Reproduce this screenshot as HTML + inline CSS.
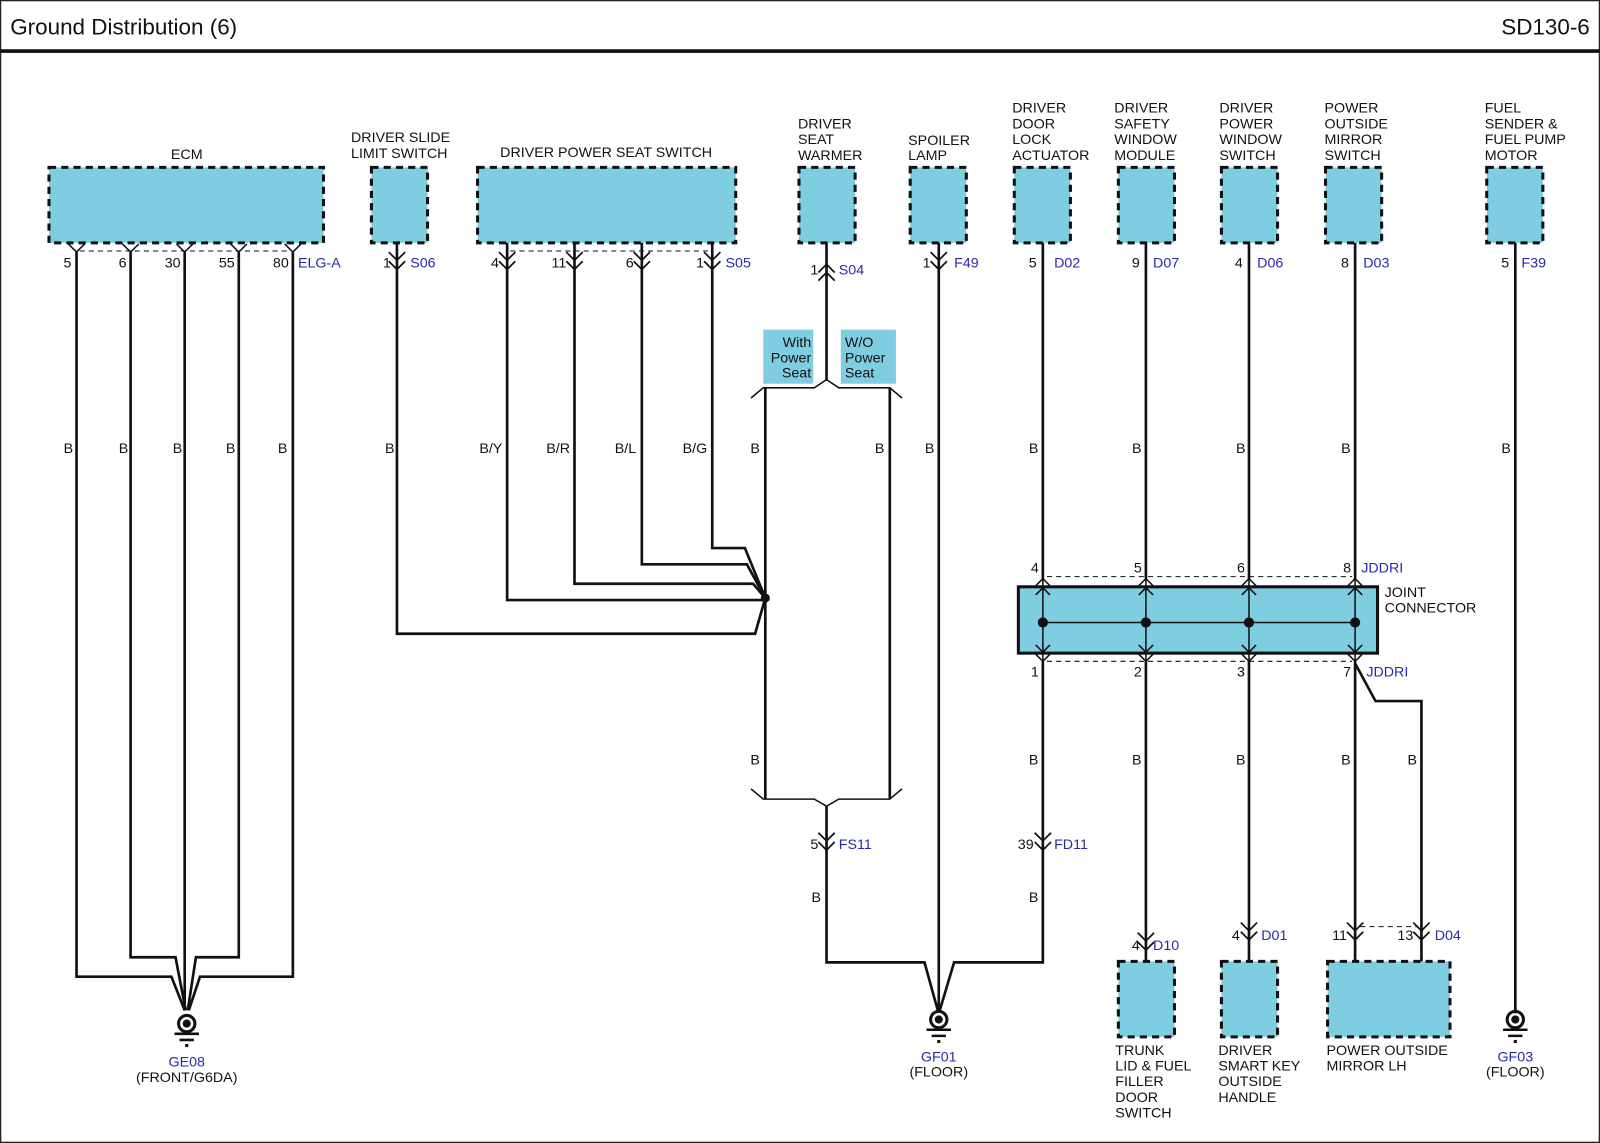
<!DOCTYPE html>
<html><head><meta charset="utf-8"><style>
html,body{margin:0;padding:0;background:#fff}
svg{display:block}
text{font-family:"Liberation Sans",Arial,sans-serif;font-size:14px;fill:#111}
.b{fill:#2a2aa8}
</style></head><body>
<svg width="1600" height="1143" viewBox="0 0 1568 1120" preserveAspectRatio="none" xmlns="http://www.w3.org/2000/svg">
<defs>
<g id="dn"><path d="M-8,-5 L0,3 L8,-5 M-8,4 L0,12 L8,4" fill="none" stroke="#111" stroke-width="1.7"/></g>
<g id="up"><path d="M-8,5 L0,-3 L8,5 M-8,13 L0,5 L8,13" fill="none" stroke="#111" stroke-width="1.7"/></g>
<g id="gnd"><circle cx="0" cy="0" r="8" fill="none" stroke="#111" stroke-width="3"/><circle cx="0" cy="0" r="4" fill="#111"/><path d="M-12,10 H12 M-7,16 H7" stroke="#111" stroke-width="2.5"/><rect x="-1.5" y="20" width="3" height="3" fill="#111"/></g>
</defs>
<rect x="0.5" y="0.5" width="1567" height="1119" fill="none" stroke="#222" stroke-width="1.5"/>
<text x="10" y="34" style="font-size:22px">Ground Distribution (6)</text>
<text x="1558" y="34" text-anchor="end" style="font-size:22px">SD130-6</text>
<line x1="0" y1="50" x2="1568" y2="50" stroke="#111" stroke-width="3.5"/>

<g fill="#7fcde0" stroke="#111" stroke-width="3" stroke-dasharray="7,5">
<rect x="48" y="164" width="269" height="74"/>
<rect x="364" y="164" width="55" height="74"/>
<rect x="468" y="164" width="253" height="74"/>
<rect x="783" y="164" width="55" height="74"/>
<rect x="892" y="164" width="55" height="74"/>
<rect x="994" y="164" width="55" height="74"/>
<rect x="1096" y="164" width="55" height="74"/>
<rect x="1197" y="164" width="55" height="74"/>
<rect x="1299" y="164" width="55" height="74"/>
<rect x="1457" y="164" width="55" height="74"/>
<rect x="1096" y="942" width="55" height="74"/>
<rect x="1197" y="942" width="55" height="74"/>
<rect x="1301" y="942" width="120" height="74"/>
</g>
<rect x="748" y="323" width="49" height="53" fill="#7fcde0"/>
<rect x="824" y="323" width="54" height="53" fill="#7fcde0"/>
<text x="795" y="340" text-anchor="end">With</text><text x="795" y="355" text-anchor="end">Power</text><text x="795" y="370" text-anchor="end">Seat</text>
<text x="828" y="340">W/O</text><text x="828" y="355">Power</text><text x="828" y="370">Seat</text>

<text x="183" y="156" text-anchor="middle">ECM</text>
<text x="344" y="139">DRIVER SLIDE</text><text x="344" y="155">LIMIT SWITCH</text>
<text x="594" y="154" text-anchor="middle">DRIVER POWER SEAT SWITCH</text>
<text x="782" y="126">DRIVER</text><text x="782" y="141">SEAT</text><text x="782" y="157">WARMER</text>
<text x="890" y="142">SPOILER</text><text x="890" y="157">LAMP</text>
<g>
<text x="992" y="110">DRIVER</text><text x="992" y="126">DOOR</text><text x="992" y="141">LOCK</text><text x="992" y="157">ACTUATOR</text>
<text x="1092" y="110">DRIVER</text><text x="1092" y="126">SAFETY</text><text x="1092" y="141">WINDOW</text><text x="1092" y="157">MODULE</text>
<text x="1195" y="110">DRIVER</text><text x="1195" y="126">POWER</text><text x="1195" y="141">WINDOW</text><text x="1195" y="157">SWITCH</text>
<text x="1298" y="110">POWER</text><text x="1298" y="126">OUTSIDE</text><text x="1298" y="141">MIRROR</text><text x="1298" y="157">SWITCH</text>
<text x="1455" y="110">FUEL</text><text x="1455" y="126">SENDER &amp;</text><text x="1455" y="141">FUEL PUMP</text><text x="1455" y="157">MOTOR</text>
</g>

<g fill="none" stroke="#111" stroke-width="1.5">
<path d="M67,239 L75,247 L83,239 M120,239 L128,247 L136,239 M173,239 L181,247 L189,239 M226,239 L234,247 L242,239 M279,239 L287,247 L295,239"/>
<path d="M78,246 H284 M500,246 H695 M1026,565 H1325 M1026,648 H1325 M1333,908 H1390" stroke-dasharray="5,4" stroke-width="1"/>
</g>
<text x="70" y="262" text-anchor="end">5</text><text x="124" y="262" text-anchor="end">6</text><text x="177" y="262" text-anchor="end">30</text><text x="230" y="262" text-anchor="end">55</text><text x="283" y="262" text-anchor="end">80</text><text x="292" y="262" class="b">ELG-A</text>

<g fill="none" stroke="#111" stroke-width="2.6">
<path d="M75,247 V957 H168 L181,990"/>
<path d="M128,247 V938 H172 L182,990"/>
<path d="M181,247 V990"/>
<path d="M234,247 V938 H192 L184,990"/>
<path d="M287,247 V957 H196 L185,990"/>
<path d="M389,238 V621 H740 L750,586"/>
<path d="M497,238 V588 H750"/>
<path d="M563,238 V572 H738 L750,586"/>
<path d="M629,238 V553 H732 L750,586"/>
<path d="M698,238 V537 H730 L750,586"/>
<path d="M810,238 V372"/>
<path d="M750,380 V783 M872,380 V783"/>
<path d="M810,790 V943 H906 L919,990"/>
<path d="M920,238 V990"/>
<path d="M1022,648 V943 H935 L921,990"/>
<path d="M1022,238 V567 M1123,238 V567 M1224,238 V567 M1328,238 V567"/>
<path d="M1123,648 V942 M1224,648 V942 M1328,648 V942"/>
<path d="M1328,650 L1348,687 H1393 V942"/>
<path d="M1485,238 V993"/>
</g>
<g fill="none" stroke="#111" stroke-width="1.5">
<path d="M736,390 L748,380 H798 L810,372 L822,380 H872 L884,390"/>
<path d="M736,773 L748,783 H798 L810,790 L822,783 H872 L884,773"/>
</g>
<circle cx="750" cy="586" r="4.5" fill="#111"/>

<use href="#dn" x="389" y="252"/><use href="#dn" x="497" y="252"/><use href="#dn" x="563" y="252"/><use href="#dn" x="629" y="252"/><use href="#dn" x="698" y="252"/>
<use href="#up" x="810" y="262"/>
<use href="#dn" x="920" y="252"/>
<use href="#dn" x="810" y="821"/><use href="#dn" x="1022" y="821"/>
<use href="#dn" x="1123" y="919"/><use href="#dn" x="1224" y="909"/><use href="#dn" x="1328" y="909"/><use href="#dn" x="1393" y="909"/>
<text x="383" y="262" text-anchor="end">1</text><text x="402" y="262" class="b">S06</text>
<text x="489" y="262" text-anchor="end">4</text><text x="555" y="262" text-anchor="end">11</text><text x="621" y="262" text-anchor="end">6</text><text x="690" y="262" text-anchor="end">1</text><text x="711" y="262" class="b">S05</text>
<text x="802" y="269" text-anchor="end">1</text><text x="822" y="269" class="b">S04</text>
<text x="912" y="262" text-anchor="end">1</text><text x="935" y="262" class="b">F49</text>
<text x="1016" y="262" text-anchor="end">5</text><text x="1033" y="262" class="b">D02</text>
<text x="1117" y="262" text-anchor="end">9</text><text x="1130" y="262" class="b">D07</text>
<text x="1218" y="262" text-anchor="end">4</text><text x="1232" y="262" class="b">D06</text>
<text x="1322" y="262" text-anchor="end">8</text><text x="1336" y="262" class="b">D03</text>
<text x="1479" y="262" text-anchor="end">5</text><text x="1491" y="262" class="b">F39</text>
<text x="802" y="832" text-anchor="end">5</text><text x="822" y="832" class="b">FS11</text>
<text x="1013" y="832" text-anchor="end">39</text><text x="1033" y="832" class="b">FD11</text>
<text x="1117" y="931" text-anchor="end">4</text><text x="1130" y="931" class="b">D10</text>
<text x="1215" y="921" text-anchor="end">4</text><text x="1236" y="921" class="b">D01</text>
<text x="1320" y="921" text-anchor="end">11</text><text x="1385" y="921" text-anchor="end">13</text><text x="1406" y="921" class="b">D04</text>

<rect x="998" y="575" width="352" height="65" fill="#7fcde0" stroke="#111" stroke-width="3"/>
<g fill="none" stroke="#111" stroke-width="1.5">
<path d="M1022,610 H1328"/>
<path d="M1022,567 V648 M1123,567 V648 M1224,567 V648 M1328,567 V648"/>
<path d="M1015,574 L1022,567 L1029,574 M1015,583 L1022,576 L1029,583 M1015,632 L1022,639 L1029,632 M1015,641 L1022,648 L1029,641"/>
<path d="M1116,574 L1123,567 L1130,574 M1116,583 L1123,576 L1130,583 M1116,632 L1123,639 L1130,632 M1116,641 L1123,648 L1130,641"/>
<path d="M1217,574 L1224,567 L1231,574 M1217,583 L1224,576 L1231,583 M1217,632 L1224,639 L1231,632 M1217,641 L1224,648 L1231,641"/>
<path d="M1321,574 L1328,567 L1335,574 M1321,583 L1328,576 L1335,583 M1321,632 L1328,639 L1335,632 M1321,641 L1328,648 L1335,641"/>
</g>
<circle cx="1022" cy="610" r="5" fill="#111"/><circle cx="1123" cy="610" r="5" fill="#111"/><circle cx="1224" cy="610" r="5" fill="#111"/><circle cx="1328" cy="610" r="5" fill="#111"/>
<text x="1018" y="561" text-anchor="end">4</text><text x="1119" y="561" text-anchor="end">5</text><text x="1220" y="561" text-anchor="end">6</text><text x="1324" y="561" text-anchor="end">8</text><text x="1334" y="561" class="b">JDDRI</text>
<text x="1018" y="663" text-anchor="end">1</text><text x="1119" y="663" text-anchor="end">2</text><text x="1220" y="663" text-anchor="end">3</text><text x="1324" y="663" text-anchor="end">7</text><text x="1339" y="663" class="b">JDDRI</text>
<text x="1357" y="585">JOINT</text><text x="1357" y="600">CONNECTOR</text>

<g>
<text x="67" y="444" text-anchor="middle">B</text><text x="121" y="444" text-anchor="middle">B</text><text x="174" y="444" text-anchor="middle">B</text><text x="226" y="444" text-anchor="middle">B</text><text x="277" y="444" text-anchor="middle">B</text>
<text x="382" y="444" text-anchor="middle">B</text><text x="481" y="444" text-anchor="middle">B/Y</text><text x="547" y="444" text-anchor="middle">B/R</text><text x="613" y="444" text-anchor="middle">B/L</text><text x="681" y="444" text-anchor="middle">B/G</text>
<text x="740" y="444" text-anchor="middle">B</text><text x="862" y="444" text-anchor="middle">B</text><text x="911" y="444" text-anchor="middle">B</text><text x="1013" y="444" text-anchor="middle">B</text><text x="1114" y="444" text-anchor="middle">B</text><text x="1216" y="444" text-anchor="middle">B</text><text x="1319" y="444" text-anchor="middle">B</text><text x="1476" y="444" text-anchor="middle">B</text>
<text x="740" y="749" text-anchor="middle">B</text><text x="1013" y="749" text-anchor="middle">B</text><text x="1114" y="749" text-anchor="middle">B</text><text x="1216" y="749" text-anchor="middle">B</text><text x="1319" y="749" text-anchor="middle">B</text><text x="1384" y="749" text-anchor="middle">B</text>
<text x="800" y="884" text-anchor="middle">B</text><text x="1013" y="884" text-anchor="middle">B</text>
</g>

<use href="#gnd" x="183" y="1003"/><use href="#gnd" x="920" y="999"/><use href="#gnd" x="1485" y="999"/>
<text x="183" y="1045" text-anchor="middle" class="b">GE08</text><text x="183" y="1060" text-anchor="middle">(FRONT/G6DA)</text>
<text x="920" y="1040" text-anchor="middle" class="b">GF01</text><text x="920" y="1055" text-anchor="middle">(FLOOR)</text>
<text x="1485" y="1040" text-anchor="middle" class="b">GF03</text><text x="1485" y="1055" text-anchor="middle">(FLOOR)</text>

<text x="1093" y="1034">TRUNK</text><text x="1093" y="1049">LID &amp; FUEL</text><text x="1093" y="1064">FILLER</text><text x="1093" y="1080">DOOR</text><text x="1093" y="1095">SWITCH</text>
<text x="1194" y="1034">DRIVER</text><text x="1194" y="1049">SMART KEY</text><text x="1194" y="1064">OUTSIDE</text><text x="1194" y="1080">HANDLE</text>
<text x="1300" y="1034">POWER OUTSIDE</text><text x="1300" y="1049">MIRROR LH</text>
</svg>
</body></html>
